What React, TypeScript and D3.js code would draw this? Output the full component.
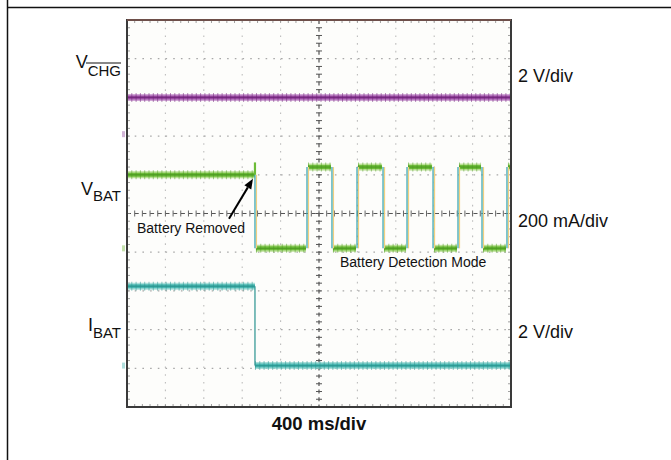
import React from "react";
import * as d3 from "d3";

// ---- data (time in ms, levels in screen divisions, 0 = centre line) ----
const timeDomain = [0, 4000];
const divDomain = [-5, 5];
const xGridMs = [0, 400, 800, 1200, 1600, 2000, 2400, 2800, 3200, 3600, 4000];
const yGridDiv = [-5, -4, -3, -2, -1, 0, 1, 2, 3, 4, 5];

const vchgTimes = [0, 4000];
const vchgLevels = [3.0, 3.0];

const vbatTimes = [0, 1333, 1875, 2135, 2396, 2667, 2917, 3188, 3448, 3698, 3958];
const vbatLevels = [1.0, -0.9, 1.2, -0.9, 1.2, -0.9, 1.2, -0.9, 1.2, -0.9, 1.2];
const vbatSpikeTime = [1333];
const vbatSpikeLevel = [1.32];

const ibatTimes = [0, 1333];
const ibatLevels = [-1.88, -3.93];

const groundMarkers = [
  { div: 2.05, color: "#9b5aa6" },
  { div: -0.9, color: "#7cbc4a" },
  { div: -3.93, color: "#4fb9b4" },
];

const W = 671;
const H = 460;
const L = 127, R = 511, T = 20, B = 407;
const FONT = "Arial, 'Liberation Sans', Helvetica, sans-serif";

export default function App() {
  const x = d3.scaleLinear().domain(timeDomain).range([L, R]);
  const y = d3.scaleLinear().domain(divDomain).range([B, T]);

  const segs = (times: number[], levels: number[]) =>
    times.map((t, i) => ({
      t0: t,
      t1: i + 1 < times.length ? times[i + 1] : timeDomain[1],
      v: levels[i],
    }));

  const vbatSegs = segs(vbatTimes, vbatLevels);
  const ibatSegs = segs(ibatTimes, ibatLevels);
  const vchgSegs = segs([vchgTimes[0]], [vchgLevels[0]]);

  const flat = d3.line<[number, number]>().x((d) => d[0]).y((d) => d[1]);

  const band = (
    s: { t0: number; t1: number; v: number },
    key: string,
    light: string,
    core: string,
    dark: string,
    inset = 0
  ) => {
    const pts: [number, number][] = [
      [x(s.t0) + inset, y(s.v)],
      [x(s.t1) - inset, y(s.v)],
    ];
    const d = flat(pts) || "";
    return (
      <g key={key}>
        <path d={d} stroke={light} strokeWidth={7} opacity={0.75} />
        <path d={d} stroke={core} strokeWidth={4} />
        <path d={d} stroke={dark} strokeWidth={9} strokeDasharray="1 3.3" opacity={0.5} />
        <path d={d} stroke={dark} strokeWidth={1.4} opacity={0.8} />
      </g>
    );
  };

  const minorX = d3.range(0, 51).map((i) => L + (i * (R - L)) / 50);
  const minorY = d3.range(0, 51).map((i) => T + (i * (B - T)) / 50);

  const cx = x(2000);
  const cy = y(0);

  const tipX = x(vbatTimes[1]) - 2;
  const tipY = y(vbatLevels[0]) + 4;
  const tailX = tipX - 24;
  const tailY = tipY + 40;
  const ang = Math.atan2(tipY - tailY, tipX - tailX);
  const ah = 10, aw = 4;
  const ax = tipX - ah * Math.cos(ang);
  const ay = tipY - ah * Math.sin(ang);
  const headPts = [
    [tipX, tipY],
    [ax + aw * Math.sin(ang), ay - aw * Math.cos(ang)],
    [ax - aw * Math.sin(ang), ay + aw * Math.cos(ang)],
  ]
    .map((p) => p.join(","))
    .join(" ");

  return (
    <svg
      width={W}
      height={H}
      viewBox={`0 0 ${W} ${H}`}
      style={{ position: "absolute", left: 0, top: 0, background: "#fff" }}
      fontFamily={FONT}
    >
      <rect x={0} y={0} width={W} height={H} fill="#fff" />
      {/* outer table frame */}
      <line x1={7.5} y1={0} x2={7.5} y2={H} stroke="#111" strokeWidth={1.5} />
      <line x1={7} y1={7.5} x2={W} y2={7.5} stroke="#111" strokeWidth={1.5} />

      {/* scope screen */}
      <rect x={L} y={T} width={R - L} height={B - T} fill="#fdfdfb" />

      {/* dotted grid */}
      {xGridMs.slice(1, -1).map((t) =>
        t === 2000 ? null : (
          <line key={"gx" + t} x1={x(t)} x2={x(t)} y1={T} y2={B} stroke="#bdbdbd" strokeWidth={1.1} strokeDasharray="1.6 6.1" />
        )
      )}
      {yGridDiv.slice(1, -1).map((v) =>
        v === 0 ? null : (
          <line key={"gy" + v} y1={y(v)} y2={y(v)} x1={L} x2={R} stroke="#a8a8a8" strokeWidth={1.3} strokeDasharray="1.6 6.1" />
        )
      )}

      {/* centre cross lines with ticks */}
      <line x1={cx} x2={cx} y1={T} y2={B} stroke="#444" strokeWidth={1.1} strokeDasharray="4 3.7" />
      <line y1={cy} y2={cy} x1={L} x2={R} stroke="#555" strokeWidth={1.1} strokeDasharray="4 3.7" />
      {minorY.map((py, i) => (
        <line key={"cty" + i} x1={cx - 3} x2={cx + 3} y1={py} y2={py} stroke="#555" strokeWidth={1} />
      ))}
      {minorX.map((px, i) => (
        <line key={"ctx" + i} y1={cy - 3} y2={cy + 3} x1={px} x2={px} stroke="#666" strokeWidth={1} />
      ))}
      {minorY.map((py, i) => (
        <g key={"bty" + i}>
          <line x1={L} x2={L + 3} y1={py} y2={py} stroke="#888" strokeWidth={0.8} />
          <line x1={R - 3} x2={R} y1={py} y2={py} stroke="#888" strokeWidth={0.8} />
        </g>
      ))}
      {minorX.map((px, i) => (
        <g key={"btx" + i}>
          <line y1={T} y2={T + 3} x1={px} x2={px} stroke="#888" strokeWidth={0.8} />
          <line y1={B - 3} y2={B} x1={px} x2={px} stroke="#888" strokeWidth={0.8} />
        </g>
      ))}

      {/* VCHG trace */}
      {vchgSegs.map((s, i) => band(s, "vc" + i, "#c48ccb", "#9a4aa3", "#6f2478"))}

      {/* IBAT trace */}
      {ibatSegs.map((s, i) => band(s, "ib" + i, "#8fd6d0", "#4ab8b2", "#2a9590"))}
      {ibatSegs.slice(1).map((s, i) => (
        <line key={"ibe" + i} x1={x(s.t0)} x2={x(s.t0)} y1={y(ibatSegs[i].v)} y2={y(s.v)} stroke="#3a9a98" strokeWidth={1.3} />
      ))}

      {/* VBAT trace */}
      {vbatSegs.map((s, i) => band(s, "vb" + i, "#a8d878", "#6cbc38", "#4d9a22", i === 0 ? 0 : 1))}
      {vbatSegs.slice(1).map((s, i) => {
        const prev = vbatSegs[i].v;
        return (
          <g key={"vbe" + i}>
            <line x1={x(s.t0) + 1.5} x2={x(s.t0) + 1.5} y1={y(prev)} y2={y(s.v)} stroke="#f0cf80" strokeWidth={1.2} />
            <line x1={x(s.t0)} x2={x(s.t0)} y1={y(prev)} y2={y(s.v)} stroke="#40a8b2" strokeWidth={1.3} />
          </g>
        );
      })}
      {vbatSpikeTime.map((t, i) => (
        <line key={"sp" + i} x1={x(t)} x2={x(t)} y1={y(vbatLevels[0])} y2={y(vbatSpikeLevel[i])} stroke="#6cbc38" strokeWidth={2.2} />
      ))}

      {/* ground markers */}
      {groundMarkers.map((m, i) => (
        <rect key={"gm" + i} x={L - 5} y={y(m.div) - 3} width={3} height={6} fill={m.color} opacity={0.45} />
      ))}

      {/* screen border */}
      <rect x={L} y={T} width={R - L} height={B - T} fill="none" stroke="#3a3a3a" strokeWidth={2} />
      <line x1={L} x2={R} y1={T} y2={T} stroke="#6e4f4a" strokeWidth={2} />

      {/* arrow */}
      <line x1={tailX} y1={tailY} x2={ax} y2={ay} stroke="#000" strokeWidth={2} />
      <polygon points={headPts} fill="#000" />

      {/* labels */}
      <text x={121} y={68} textAnchor="end" fontSize={18} fill="#111">
        V<tspan dy={8} fontSize={15}>CHG</tspan>
      </text>
      <line x1={86} x2={121} y1={63} y2={63} stroke="#111" strokeWidth={1.2} />
      <text x={121} y={195} textAnchor="end" fontSize={18} fill="#111">
        V<tspan dy={6} fontSize={15}>BAT</tspan>
      </text>
      <text x={121} y={331} textAnchor="end" fontSize={18} fill="#111">
        I<tspan dy={7} fontSize={15}>BAT</tspan>
      </text>

      <text x={518} y={82} fontSize={18} fill="#111">2 V/div</text>
      <text x={518} y={227} fontSize={18} fill="#111">200 mA/div</text>
      <text x={518} y={338} fontSize={18} fill="#111">2 V/div</text>

      <text x={137} y={233} fontSize={14} fill="#111">Battery Removed</text>
      <text x={340} y={267} fontSize={14} fill="#111">Battery Detection Mode</text>

      <text x={(L + R) / 2} y={430} textAnchor="middle" fontSize={18.5} fontWeight="bold" fill="#111">
        400 ms/div
      </text>
    </svg>
  );
}
